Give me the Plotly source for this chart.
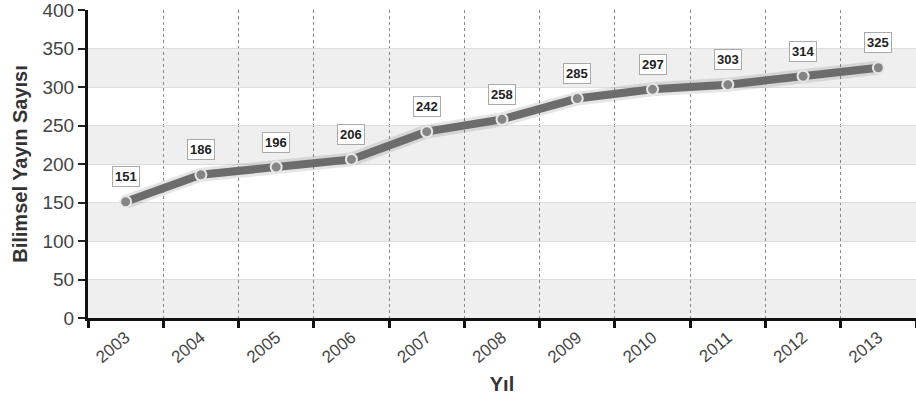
import plotly.graph_objects as go

years = ["2003", "2004", "2005", "2006", "2007", "2008", "2009", "2010", "2011", "2012", "2013"]
values = [151, 186, 196, 206, 242, 258, 285, 297, 303, 314, 325]
y_ticks = [0, 50, 100, 150, 200, 250, 300, 350, 400]

xs = list(range(len(years)))

fig = go.Figure()

# alternating bands
for i in range(0, 400, 100):
    fig.add_shape(type="rect", xref="paper", yref="y", x0=0, x1=1, y0=i, y1=i + 50,
                  fillcolor="#efefef", line_width=0, layer="below")

# shadow
fig.add_trace(go.Scatter(x=xs, y=values, mode="lines",
                         line=dict(color="rgba(0,0,0,0.10)", width=14),
                         hoverinfo="skip", showlegend=False))
fig.add_trace(go.Scatter(x=xs, y=values, mode="lines+markers",
                         line=dict(color="#6c6c6c", width=8),
                         marker=dict(size=11, color="#858585", line=dict(color="#e8e8e8", width=2)),
                         showlegend=False))

for x, v in zip(xs, values):
    fig.add_annotation(x=x, y=v, text=f"<b>{v}</b>", showarrow=False, yshift=25,
                       font=dict(family="Arial", size=13, color="#222"),
                       bgcolor="white", bordercolor="#aaaaaa", borderwidth=1, borderpad=2)

fig.update_layout(
    width=916, height=407,
    margin=dict(l=88, r=0, t=10, b=89),
    plot_bgcolor="white", paper_bgcolor="white",
    font=dict(family="Arial", color="#444"),
    xaxis=dict(
        range=[-0.5, 10.5], tickvals=xs, ticktext=years, tickangle=-40,
        tickfont=dict(size=17, color="#444"), ticks="", showgrid=False, zeroline=False,
        showline=True, linecolor="#111", linewidth=3,
        minor=dict(tickvals=[i + 0.5 for i in range(-1, 11)], ticks="outside", ticklen=7,
                   tickwidth=3, tickcolor="#111", showgrid=True, gridcolor="#888",
                   griddash="dot", gridwidth=1),
        title=dict(text="<b>Yıl</b>", font=dict(size=20, color="#333"), standoff=12),
    ),
    yaxis=dict(
        range=[0, 400], tickvals=y_ticks, tickfont=dict(size=19, color="#444"),
        ticklabeloverflow="allow",
        ticks="outside", ticklen=7, tickwidth=2, tickcolor="#222",
        showgrid=True, gridcolor="#dddddd", gridwidth=1, zeroline=False,
        showline=True, linecolor="#111", linewidth=3,
        title=dict(text="<b>Bilimsel Yayın Sayısı</b>", font=dict(size=20, color="#333"), standoff=10),
    ),
)

fig.write_html("out.html")
